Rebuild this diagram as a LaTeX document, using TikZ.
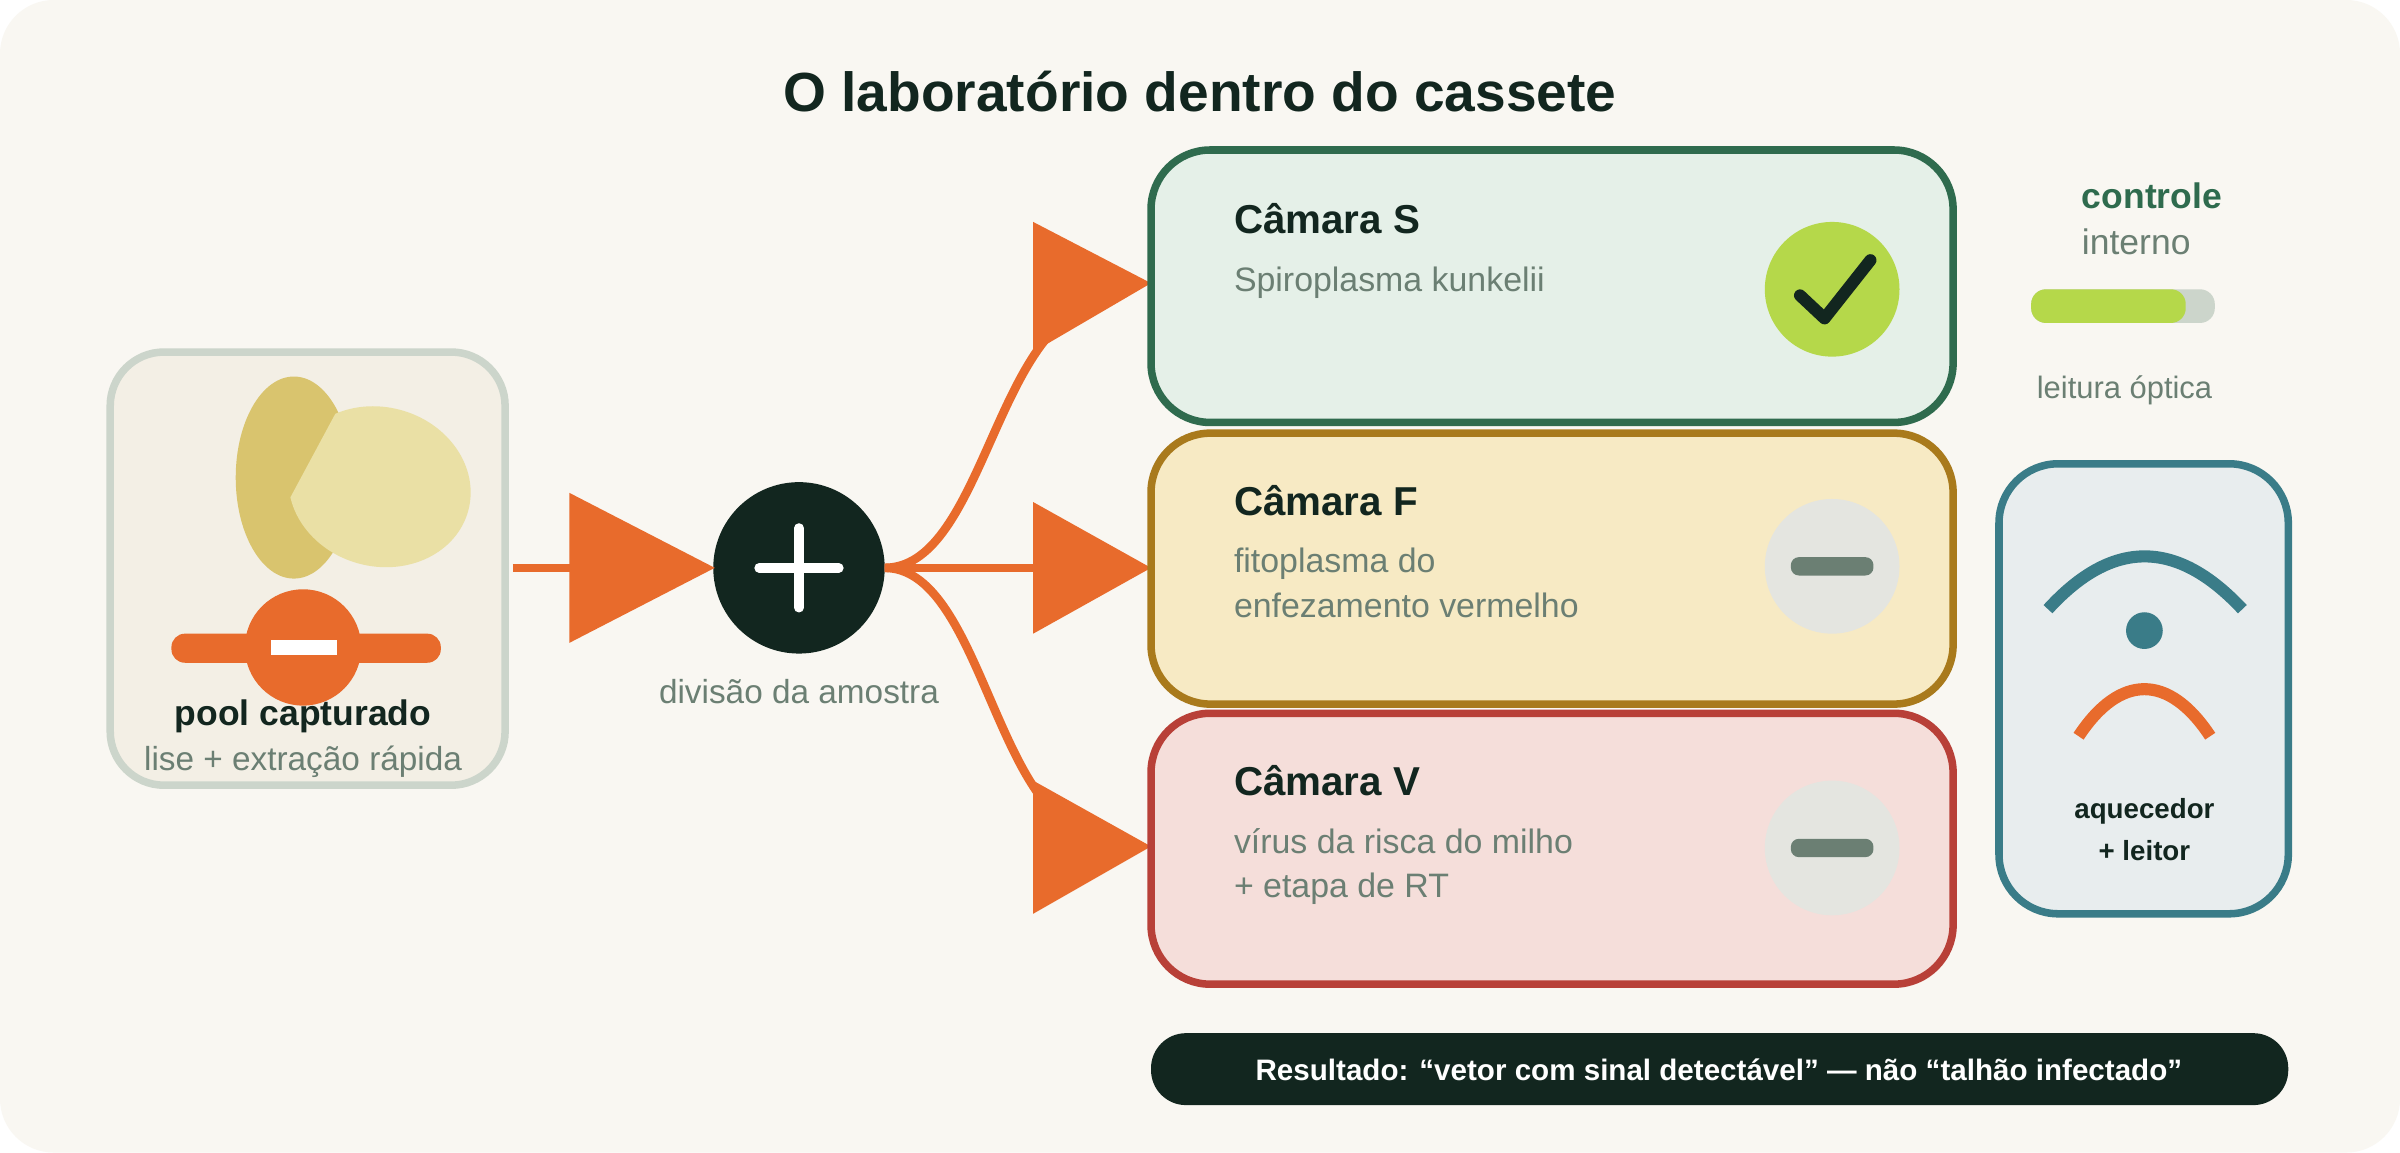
\documentclass[tikz,border=0pt]{standalone}
\usepackage{fontspec}
\setmainfont{Liberation Sans}
\usetikzlibrary{positioning}
\definecolor{bgPaper}{HTML}{F9F7F2}
\definecolor{poolFill}{HTML}{F3EFE5}
\definecolor{seedDark}{HTML}{D9C46E}
\definecolor{seedLight}{HTML}{EAE0A5}
\definecolor{inkDark}{HTML}{12261F}
\definecolor{inkGray}{HTML}{6B7F73}
\definecolor{accOrange}{HTML}{E86B2C}
\definecolor{sGreen}{HTML}{2F6B4E}
\definecolor{sFill}{HTML}{E5F0E8}
\definecolor{fGold}{HTML}{A97A1C}
\definecolor{fFill}{HTML}{F7EAC4}
\definecolor{vRed}{HTML}{B84038}
\definecolor{vFill}{HTML}{F5DEDA}
\definecolor{rTeal}{HTML}{3A7C88}
\definecolor{rFill}{HTML}{E8EDEE}
\definecolor{limeOk}{HTML}{B5D84A}
\definecolor{paleGray}{HTML}{E4E5E0}
\definecolor{barGray}{HTML}{CCD5CB}
\begin{document}
\begin{tikzpicture}[x=0.02cm, y=-0.02cm,
                chamberBox/.style={
                  rounded corners=22pt, line width=2.8pt
                },
                chamberTitle/.style={
                  anchor=west, font=\fontsize{15}{18}\selectfont\bfseries, text=inkDark
                },
                chamberText/.style={
                  anchor=north west, align=left, font=\fontsize{12.6}{16.5}\selectfont, text=inkGray
                },
                flowLine/.style={accOrange, line width=3.2pt},
              ]
  % background
  \fill[white] (0,0) rectangle (1568,753);
  \fill[bgPaper, rounded corners=20pt] (0,0) rectangle (1568,753);
  \node[font=\fontsize{20.5}{24}\selectfont\bfseries, text=inkDark] (title) at (784,60) {O laboratório dentro do cassete};

  % captured pool
  \draw[line width=2.8pt, barGray, fill=poolFill, rounded corners=20pt] (72,230) rectangle (330,513);
  \fill[seedDark] (192,312) ellipse [x radius=38, y radius=66];
  \begin{scope}
    \clip (230,250) -- (187,330) -- (230,400) -- (320,400) -- (320,250) -- cycle;
    \fill[seedLight, rotate around={-15:(248,318)}] (248,318) ellipse [x radius=60, y radius=52];
  \end{scope}
  \fill[accOrange, rounded corners=5pt] (112,414) rectangle (288,433);
  \fill[accOrange] (198,423) circle (38);
  \fill[white] (177,418) rectangle (220,428);
  \node[font=\fontsize{13.2}{15}\selectfont\bfseries, text=inkDark] (pool) at (198,468) {pool capturado};
  \node[font=\fontsize{12.4}{14}\selectfont, text=inkGray] (lise) at (198,498) {lise + extração rápida};

  % split
  \node[circle, fill=inkDark, minimum size=112*0.02cm, inner sep=0pt] (split) at (522,371) {};
  \draw[white, line width=3.6pt, line cap=round] (496,371) -- (548,371) (522,345) -- (522,397);
  \node[font=\fontsize{12.4}{14}\selectfont, text=inkGray] (splitLabel) at (522,452) {divisão da amostra};
  \draw[flowLine] (335,371) -- (380,371);
  \fill[accOrange] (372,322) -- (467,371) -- (372,420) -- cycle;

  \coordinate (fork) at (578,371);
  \draw[flowLine] (fork) .. controls (640,371) and (650,220) .. (712,200);
  \draw[flowLine] (fork) -- (700,371);
  \draw[flowLine] (fork) .. controls (640,371) and (650,530) .. (712,545);
  \fill[accOrange] (675,145) -- (752,185) -- (675,230) -- cycle;
  \fill[accOrange] (675,328) -- (752,371) -- (675,414) -- cycle;
  \fill[accOrange] (675,510) -- (752,553) -- (675,597) -- cycle;

  % chambers
  \draw[chamberBox, draw=sGreen, fill=sFill] (752,98) rectangle (1276,276);
  \draw[chamberBox, draw=fGold, fill=fFill] (752,283) rectangle (1276,460);
  \draw[chamberBox, draw=vRed, fill=vFill] (752,466) rectangle (1276,643);
  \node[chamberTitle] (camS) at (800,143) {Câmara S};
  \node[chamberText, below=5pt of camS.south west, anchor=north west] (txtS) {Spiroplasma kunkelii};
  \node[chamberTitle] (camF) at (800,327) {Câmara F};
  \node[chamberText, below=5pt of camF.south west, anchor=north west] (txtF) {fitoplasma do\\enfezamento vermelho};
  \node[chamberTitle] (camV) at (800,510) {Câmara V};
  \node[chamberText, below=5pt of camV.south west, anchor=north west] (txtV) {vírus da risca do milho\\+ etapa de RT};

  \fill[limeOk] (1197,189) circle (44);
  \draw[inkDark, line width=4.5pt, line cap=round, line join=round] (1176,193) -- (1192,208) -- (1222,170);
  \foreach \cy in {370,554} {
    \fill[paleGray] (1197,\cy) circle (44);
    \fill[inkGray, rounded corners=3pt] (1170,\cy-6) rectangle (1224,\cy+6);
  }

  % internal control
  \node[font=\fontsize{13.2}{15}\selectfont\bfseries, text=sGreen, anchor=west] (ctrl) at (1354,128) {controle};
  \node[font=\fontsize{13.2}{15}\selectfont, text=inkGray, anchor=west] (intern) at (1354,158) {interno};
  \fill[barGray, rounded corners=5.5pt] (1327,189) rectangle (1447,211);
  \fill[limeOk, rounded corners=5.5pt] (1327,189) rectangle (1428,211);
  \node[font=\fontsize{11.5}{13}\selectfont, text=inkGray] (optic) at (1388,255) {leitura óptica};

  % heater + reader
  \draw[line width=2.8pt, draw=rTeal, fill=rFill, rounded corners=22pt] (1306,303) rectangle (1495,597);
  \draw[rTeal, line width=4.5pt] (1338,398) .. controls (1380,352) and (1422,352) .. (1465,398);
  \fill[rTeal] (1401,412) circle (12);
  \draw[accOrange, line width=4.5pt] (1358,481) .. controls (1385,440) and (1417,440) .. (1444,481);
  \node[font=\fontsize{10.3}{15.5}\selectfont\bfseries, text=inkDark, align=center] (reader) at (1401,542) {aquecedor\\+ leitor};

  % result
  \fill[inkDark, rounded corners=13pt] (752,675) rectangle (1495,722);
  \node[font=\fontsize{11}{13}\selectfont\bfseries, text=white] (result) at (1123,699) {Resultado: “vetor com sinal detectável” — não “talhão infectado”};
\end{tikzpicture}
\end{document}
